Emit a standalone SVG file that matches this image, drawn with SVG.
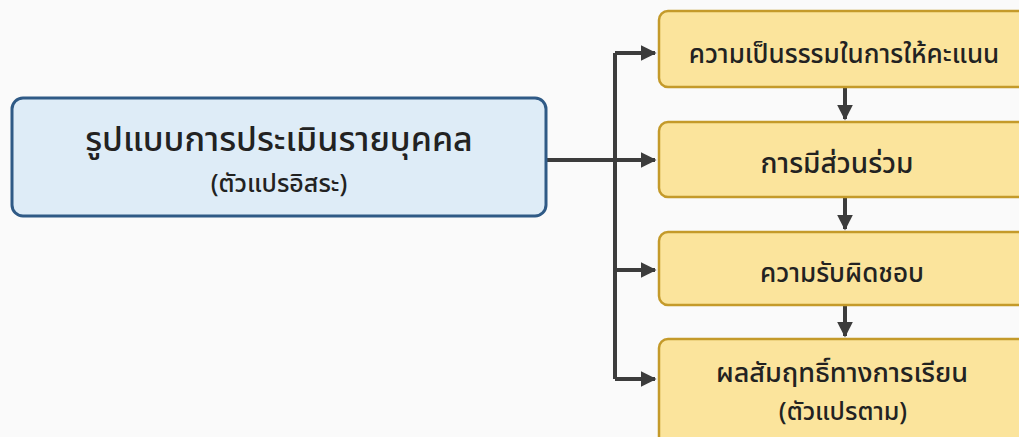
<svg xmlns="http://www.w3.org/2000/svg" width="1019" height="437" viewBox="0 0 1019 437">
<style>
text{font-family:"Noto Sans Thai","Noto Sans Thai Looped","Noto Sans","Tahoma",sans-serif;fill:#222;text-anchor:middle;font-weight:500}
.y{fill:#fbe49c;stroke:#c49a2a;stroke-width:2.5}
.b{fill:#deecf7;stroke:#2f5a86;stroke-width:3}
.c{stroke:#3c3c3c;stroke-width:4;fill:none}
</style>
<defs>
<marker id="ah" viewBox="0 0 10 10" refX="9" refY="5" markerWidth="4" markerHeight="4" markerUnits="strokeWidth" orient="auto">
<path d="M0,0 L10,5 L0,10 z" fill="#3c3c3c"/>
</marker>
</defs>
<rect width="1019" height="437" fill="#fafafa"/>
<g id="connectors">
<path class="c" d="M546,160 H615"/>
<path class="c" d="M615,53 V379"/>
<path class="c" d="M615,53 H655" marker-end="url(#ah)"/>
<path class="c" d="M615,160 H655" marker-end="url(#ah)"/>
<path class="c" d="M615,270 H655" marker-end="url(#ah)"/>
<path class="c" d="M615,379 H655" marker-end="url(#ah)"/>
<path class="c" d="M845,87 V119" marker-end="url(#ah)"/>
<path class="c" d="M845,197 V229" marker-end="url(#ah)"/>
<path class="c" d="M845,305 V336" marker-end="url(#ah)"/>
</g>
<g id="node-main">
<rect class="b" x="12" y="98" width="534" height="118" rx="11"/>
<text x="279" y="151" font-size="34">รูปแบบการประเมินรายบุคคล</text>
<text x="279" y="192" font-size="25">(ตัวแปรอิสระ)</text>
</g>
<g id="node-1">
<rect class="y" x="659" y="11" width="372" height="76" rx="9"/>
<text x="844" y="63" font-size="26">ความเป็นรรรมในการให้คะแนน</text>
</g>
<g id="node-2">
<rect class="y" x="659" y="122" width="372" height="75" rx="9"/>
<text x="837" y="173" font-size="28">การมีส่วนร่วม</text>
</g>
<g id="node-3">
<rect class="y" x="659" y="232" width="372" height="73" rx="9"/>
<text x="842" y="282" font-size="26">ความรับผิดชอบ</text>
</g>
<g id="node-4">
<rect class="y" x="659" y="339" width="372" height="110" rx="9"/>
<text x="842" y="382" font-size="27">ผลสัมฤทธิ์ทางการเรียน</text>
<text x="843" y="420" font-size="25">(ตัวแปรตาม)</text>
</g>
</svg>
